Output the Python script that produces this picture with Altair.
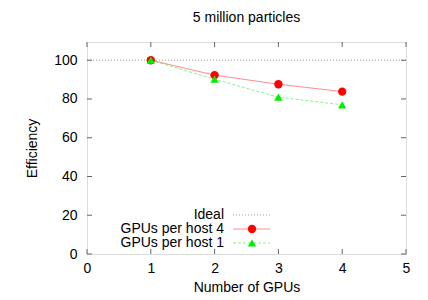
import altair as alt
import pandas as pd

gpus = [1, 2, 3, 4]
eff_host4 = [100, 92.3, 87.6, 83.8]
eff_host1 = [100, 90.2, 80.9, 77.0]
ideal = 100
x_ticks = [0, 1, 2, 3, 4, 5]
y_ticks = [0, 20, 40, 60, 80, 100]
legend_labels = ["Ideal", "GPUs per host 4", "GPUs per host 1"]

FONT = "Liberation Sans"
W, H = 319, 212
xs = alt.Scale(domain=[0, 5], nice=False, zero=False)
ys = alt.Scale(domain=[0, 109.4], nice=False)

df4 = pd.DataFrame({"g": gpus, "e": eff_host4})
df1 = pd.DataFrame({"g": gpus, "e": eff_host1})
dfx = pd.DataFrame({"t": x_ticks})
dfy = pd.DataFrame({"t": y_ticks})
dfi = pd.DataFrame({"a": [x_ticks[0]], "b": [x_ticks[-1]], "v": [ideal]})

xaxis = alt.Axis(values=x_ticks, format="d", ticks=False, domain=False, grid=False, labelFont=FONT,
                 labelFontSize=14, labelColor="black", labelPadding=7, title="Number of GPUs",
                 titleFont=FONT, titleFontSize=14, titleFontWeight="normal", titleColor="black",
                 titlePadding=5, labelFlush=False)
yaxis = alt.Axis(values=y_ticks, format="d", ticks=False, domain=False, grid=False, labelFont=FONT,
                 labelFontSize=14, labelColor="black", labelPadding=10, title="Efficiency",
                 titleFont=FONT, titleFontSize=14, titleFontWeight="normal", titleColor="black",
                 titlePadding=14, labelFlush=False)

base_axes = alt.Chart(dfx).mark_rule(opacity=0).encode(
    x=alt.X("t:Q", scale=xs, axis=xaxis),
    y=alt.datum(0, scale=ys, axis=yaxis),
)

TC = "#666666"
xt_bottom = alt.Chart(dfx).mark_rule(color=TC).encode(
    x=alt.X("t:Q", scale=xs), y=alt.value(H), y2=alt.value(H - 5))
xt_top = alt.Chart(dfx).mark_rule(color=TC).encode(
    x=alt.X("t:Q", scale=xs), y=alt.value(0), y2=alt.value(5))
yt_left = alt.Chart(dfy).mark_rule(color=TC).encode(
    y=alt.Y("t:Q", scale=ys), x=alt.value(0), x2=alt.value(5))
yt_right = alt.Chart(dfy).mark_rule(color=TC).encode(
    y=alt.Y("t:Q", scale=ys), x=alt.value(W), x2=alt.value(W - 5))

ideal_line = alt.Chart(dfi).mark_rule(color="#999999", strokeDash=[1, 2], strokeWidth=1).encode(
    x=alt.X("a:Q", scale=xs), x2="b:Q", y=alt.Y("v:Q", scale=ys))

line4 = alt.Chart(df4).mark_line(color="#ff0000", opacity=0.45, strokeWidth=1).encode(
    x=alt.X("g:Q", scale=xs), y=alt.Y("e:Q", scale=ys))
line1 = alt.Chart(df1).mark_line(color="#00ee00", opacity=0.5, strokeWidth=1, strokeDash=[3, 2]).encode(
    x=alt.X("g:Q", scale=xs), y=alt.Y("e:Q", scale=ys))
pts4 = alt.Chart(df4).mark_point(shape="circle", filled=True, color="#ff0000", size=70, opacity=1).encode(
    x=alt.X("g:Q", scale=xs), y=alt.Y("e:Q", scale=ys))
pts1 = alt.Chart(df1).mark_point(shape="triangle-up", filled=True, color="#00ee00", size=70, opacity=1).encode(
    x=alt.X("g:Q", scale=xs), y=alt.Y("e:Q", scale=ys))

# legend
rows = [173, 187, 201]
leg = []
for i, lab in enumerate(legend_labels):
    leg.append(alt.Chart(pd.DataFrame({"l": [lab]})).mark_text(
        align="right", baseline="middle", font=FONT, fontSize=14, color="black").encode(
        text="l:N", x=alt.value(137), y=alt.value(rows[i])))
leg.append(alt.Chart(pd.DataFrame({"l": [legend_labels[0]]})).mark_rule(
    color="#999999", strokeDash=[1, 2]).encode(x=alt.value(146), x2=alt.value(183), y=alt.value(rows[0])))
leg.append(alt.Chart(pd.DataFrame({"l": [legend_labels[1]]})).mark_rule(
    color="#ff0000", opacity=0.45).encode(x=alt.value(146), x2=alt.value(183), y=alt.value(rows[1])))
leg.append(alt.Chart(pd.DataFrame({"l": [legend_labels[1]]})).mark_point(
    shape="circle", filled=True, color="#ff0000", size=70, opacity=1).encode(x=alt.value(165), y=alt.value(rows[1])))
leg.append(alt.Chart(pd.DataFrame({"l": [legend_labels[2]]})).mark_rule(
    color="#00ee00", opacity=0.5, strokeDash=[3, 2]).encode(x=alt.value(146), x2=alt.value(183), y=alt.value(rows[2])))
leg.append(alt.Chart(pd.DataFrame({"l": [legend_labels[2]]})).mark_point(
    shape="triangle-up", filled=True, color="#00ee00", size=70, opacity=1).encode(x=alt.value(165), y=alt.value(rows[2])))

chart = alt.layer(base_axes, ideal_line, xt_bottom, xt_top, yt_left, yt_right,
                  line4, line1, pts4, pts1, *leg).properties(
    width=W, height=H,
    title=alt.Title("5 million particles", font=FONT, fontSize=14, fontWeight="normal",
                    color="black", offset=17),
    autosize=alt.AutoSizeParams(type="none"),
    padding={"left": 79, "top": 34, "right": 14, "bottom": 50},
).configure_view(stroke=TC, strokeWidth=1).configure(background="white")

chart.save("out.html", embed_options={"renderer": "svg", "actions": False})
